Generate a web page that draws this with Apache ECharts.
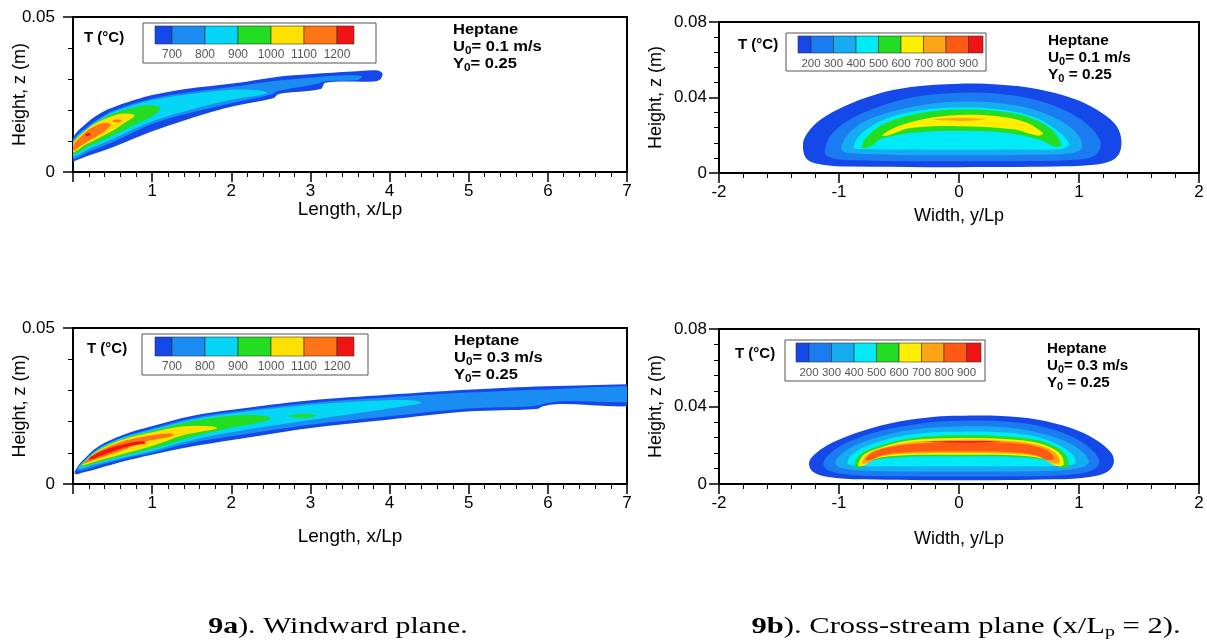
<!DOCTYPE html>
<html>
<head>
<meta charset="utf-8">
<script src="https://cdn.jsdelivr.net/npm/echarts@6/dist/echarts.min.js"></script>
<style>
  html, body { margin: 0; padding: 0; background: #fff; }
  #chart { width: 1207px; height: 643px; }
</style>
</head>
<body>
<div id="chart"></div>
<script>
// ---------- Temperature levels and colour scales ----------
const windLevels = [700, 800, 900, 1000, 1100, 1200];
const windColors = ['#1448e8', '#1b8cf2', '#06d6f6', '#22dd22', '#ffe000', '#ff7414', '#f01414'];
const crossLevels = [200, 300, 400, 500, 600, 700, 800, 900];
const crossColors = ['#1448e8', '#1a7cf0', '#16acf2', '#00eaf8', '#22dd22', '#ffee00', '#ffa414', '#ff5a14', '#f01414'];

// ---------- Axis tick values ----------
const lengthTicks = [0, 1, 2, 3, 4, 5, 6, 7];
const widthTicks = [-2, -1, 0, 1, 2];
const windHeightTicks = [0, 0.05];
const crossHeightTicks = [0, 0.04, 0.08];

// ---------- Windward plane, U0 = 0.1 m/s : outlines [x/Lp, z] of each temperature band ----------
const windA_T0 = [[0,0.0108],[0.17,0.0157],[0.34,0.0189],[0.55,0.0213],[0.85,0.0238],[1.0,0.0248],[1.4,0.0267],[2.04,0.0286],[2.55,0.0306],[3.02,0.0316],[3.53,0.0324],[3.83,0.0328],[3.91,0.0318],[3.88,0.0298],[3.80,0.0292],[3.19,0.0288],[3.13,0.0268],[2.6,0.0252],[2.53,0.0238],[2.04,0.0213],[1.62,0.0184],[1.19,0.0148],[0.85,0.0116],[0.51,0.0081],[0.21,0.0054],[0.03,0.0036],[0,0.0032]];
const windA_T700 = [[0,0.0102],[0.2,0.0149],[0.35,0.0176],[0.5,0.0197],[1.0,0.0237],[1.5,0.0258],[2.0,0.0274],[2.5,0.0292],[3.0,0.0304],[3.4,0.0311],[3.65,0.0309],[3.6,0.0297],[3.2,0.0293],[3.05,0.0282],[2.6,0.0262],[2.5,0.0250],[2.0,0.0222],[1.5,0.0192],[1.0,0.0155],[0.5,0.0096],[0.2,0.0065],[0,0.0043]];
const windA_T800 = [[0,0.0098],[0.2,0.0146],[0.35,0.0172],[0.5,0.0193],[1.0,0.0232],[1.5,0.0252],[2.0,0.0265],[2.35,0.0264],[2.45,0.0255],[2.3,0.0245],[2.0,0.0233],[1.5,0.0202],[1.0,0.0163],[0.5,0.0106],[0.2,0.0074],[0,0.0051]];
const windA_T900 = [[0,0.0095],[0.2,0.0143],[0.35,0.0168],[0.5,0.0188],[0.8,0.0210],[1.0,0.0215],[1.1,0.0206],[1.0,0.0180],[0.8,0.0155],[0.5,0.0117],[0.2,0.0082],[0,0.0058]];
const windA_T1000 = [[0,0.0092],[0.15,0.0132],[0.3,0.0159],[0.5,0.0181],[0.65,0.0189],[0.78,0.0182],[0.65,0.0158],[0.5,0.0133],[0.3,0.0106],[0.15,0.0087],[0,0.0064]];
const windA_T1100 = [[0.01,0.0089],[0.1,0.0114],[0.2,0.0137],[0.3,0.0151],[0.4,0.0158],[0.48,0.0153],[0.4,0.0132],[0.3,0.0115],[0.2,0.0100],[0.1,0.0085],[0.01,0.0069]];
const windA_T1100b = [[0.5,0.0164],[0.56,0.0169],[0.62,0.0165],[0.56,0.0160]];
const windA_T1200 = [[0.15,0.0120],[0.19,0.0125],[0.23,0.0121],[0.18,0.0116]];

// ---------- Windward plane, U0 = 0.3 m/s ----------
const windB_T0 = [[0.02,0.0036],[0.05,0.0052],[0.11,0.0072],[0.32,0.0120],[0.63,0.0157],[0.98,0.0184],[1.5,0.0218],[2.01,0.0238],[2.98,0.0268],[3.98,0.0286],[4.98,0.0302],[5.98,0.0313],[7.0,0.0320],[7.3,0.0322],[7.3,0.0257],[6.1,0.0256],[5.95,0.0250],[5.85,0.0240],[4.98,0.0232],[3.98,0.0206],[2.98,0.0179],[2.01,0.0141],[1.5,0.0120],[0.98,0.0093],[0.63,0.0072],[0.32,0.0050],[0.11,0.0036],[0.04,0.0031]];
const windB_T700 = [[0.05,0.0045],[0.11,0.0068],[0.32,0.0114],[0.63,0.0151],[1.0,0.0178],[1.5,0.0211],[2.0,0.0231],[3.0,0.0260],[4.0,0.0278],[5.0,0.0293],[6.0,0.0303],[7.3,0.0309],[7.3,0.0268],[6.2,0.0266],[6.0,0.0260],[5.8,0.0249],[5.0,0.0242],[4.0,0.0217],[3.0,0.0190],[2.0,0.0153],[1.5,0.0132],[1.0,0.0100],[0.63,0.0080],[0.32,0.0059],[0.11,0.0043]];
const windB_T800 = [[0.07,0.0052],[0.3,0.0109],[0.6,0.0146],[1.0,0.0174],[1.5,0.0206],[2.0,0.0226],[3.0,0.0254],[3.8,0.0267],[4.3,0.0268],[4.4,0.0260],[4.2,0.0250],[4.0,0.0242],[3.0,0.0205],[2.0,0.0166],[1.5,0.0140],[1.0,0.0106],[0.6,0.0082],[0.3,0.0064],[0.1,0.0050]];
const windB_T900 = [[0.09,0.0057],[0.3,0.0106],[0.6,0.0143],[1.0,0.0170],[1.5,0.0201],[2.0,0.0219],[2.35,0.0220],[2.5,0.0211],[2.35,0.0197],[2.0,0.0180],[1.5,0.0150],[1.0,0.0113],[0.6,0.0088],[0.3,0.0068],[0.11,0.0055]];
const windB_T900b = [[2.72,0.0218],[2.9,0.0224],[3.08,0.0219],[2.9,0.0212]];
const windB_T1000 = [[0.11,0.0061],[0.3,0.0104],[0.6,0.0140],[1.0,0.0166],[1.4,0.0185],[1.75,0.0185],[1.82,0.0178],[1.6,0.0167],[1.4,0.0157],[1.0,0.0122],[0.6,0.0094],[0.3,0.0073],[0.13,0.0060]];
const windB_T1100 = [[0.13,0.0066],[0.3,0.0101],[0.6,0.0134],[0.9,0.0152],[1.22,0.0163],[1.28,0.0156],[1.1,0.0145],[0.9,0.0135],[0.6,0.0106],[0.3,0.0080],[0.15,0.0066]];
const windB_T1200 = [[0.2,0.0082],[0.35,0.0104],[0.55,0.0122],[0.7,0.0131],[0.88,0.0137],[0.92,0.0131],[0.75,0.0123],[0.6,0.0113],[0.45,0.0099],[0.3,0.0085],[0.22,0.0078]];

// ---------- Cross-stream plane, U0 = 0.1 m/s : outlines [y/Lp, z] ----------
const crossA_T100 = [[-1.30,0.0155],[-1.26,0.0215],[-1.15,0.0285],[-0.95,0.0355],[-0.7,0.0415],[-0.4,0.0455],[0,0.0473],[0.35,0.0468],[0.65,0.0445],[0.95,0.0395],[1.15,0.0335],[1.3,0.026],[1.35,0.019],[1.34,0.011],[1.27,0.0065],[1.1,0.0042],[0.8,0.0034],[0,0.0031],[-0.9,0.0034],[-1.15,0.0045],[-1.27,0.0075]];
const crossA_T200 = [[-1.12,0.0115],[-1.07,0.020],[-0.92,0.028],[-0.65,0.0355],[-0.35,0.0405],[0,0.0425],[0.35,0.0418],[0.65,0.0385],[0.92,0.032],[1.1,0.024],[1.18,0.016],[1.14,0.0095],[1.0,0.0072],[0.6,0.0064],[0,0.0062],[-0.6,0.0064],[-1.0,0.0072],[-1.1,0.0090]];
const crossA_T300 = [[-0.98,0.0125],[-0.93,0.020],[-0.78,0.0275],[-0.5,0.0335],[-0.2,0.0370],[0,0.0378],[0.3,0.0372],[0.6,0.034],[0.85,0.0275],[1.0,0.0195],[1.02,0.0130],[0.92,0.0103],[0.5,0.0096],[0,0.0094],[-0.5,0.0096],[-0.9,0.0104]];
const crossA_T400 = [[-0.88,0.0135],[-0.82,0.0205],[-0.62,0.0285],[-0.32,0.0333],[0,0.0347],[0.3,0.034],[0.6,0.0302],[0.8,0.0235],[0.92,0.0155],[0.86,0.0127],[0.5,0.0124],[0,0.0123],[-0.5,0.0124],[-0.82,0.0127]];
const crossA_T500 = [[-0.81,0.0135],[-0.77,0.019],[-0.62,0.0262],[-0.32,0.0318],[0,0.0336],[0.3,0.0330],[0.6,0.0292],[0.78,0.0225],[0.85,0.0150],[0.8,0.0140],[0.68,0.0175],[0.4,0.0212],[0,0.0222],[-0.4,0.0212],[-0.65,0.0180],[-0.74,0.0140]];
const crossA_T600 = [[-0.64,0.0200],[-0.52,0.0245],[-0.3,0.0285],[0,0.0307],[0.3,0.0302],[0.55,0.0270],[0.7,0.0210],[0.66,0.0198],[0.45,0.0232],[0,0.0248],[-0.4,0.0238],[-0.6,0.0198]];
const crossA_T700 = [[-0.22,0.0283],[0,0.0291],[0.22,0.0285],[0,0.0276]];

// ---------- Cross-stream plane, U0 = 0.3 m/s ----------
const crossB_T100 = [[-1.25,0.0110],[-1.2,0.0155],[-1.05,0.0215],[-0.8,0.0275],[-0.5,0.0322],[-0.2,0.0347],[0,0.0352],[0.35,0.0351],[0.65,0.0333],[0.95,0.0285],[1.15,0.0225],[1.27,0.0160],[1.29,0.0110],[1.24,0.0065],[1.1,0.0038],[0.8,0.0024],[0,0.0019],[-0.8,0.0024],[-1.1,0.0038],[-1.22,0.0065]];
const crossB_T200 = [[-1.13,0.0105],[-1.08,0.0155],[-0.92,0.0218],[-0.65,0.0275],[-0.3,0.0314],[0,0.0326],[0.35,0.0324],[0.65,0.0302],[0.92,0.0250],[1.1,0.0180],[1.17,0.0112],[1.1,0.0068],[0.9,0.0047],[0.5,0.0040],[0,0.0039],[-0.5,0.0040],[-0.9,0.0047],[-1.08,0.0068]];
const crossB_T300 = [[-1.03,0.0105],[-0.98,0.0155],[-0.82,0.0212],[-0.55,0.0262],[-0.25,0.0290],[0,0.0297],[0.3,0.0295],[0.6,0.0274],[0.88,0.0222],[1.04,0.0160],[1.08,0.0110],[0.98,0.0080],[0.7,0.0067],[0,0.0065],[-0.7,0.0067],[-0.96,0.0080]];
const crossB_T400 = [[-0.93,0.0110],[-0.88,0.0158],[-0.72,0.0208],[-0.45,0.0250],[-0.2,0.0267],[0,0.0270],[0.3,0.0268],[0.6,0.0250],[0.82,0.0205],[0.95,0.0150],[0.97,0.0110],[0.88,0.0094],[0.5,0.0091],[0,0.0091],[-0.5,0.0091],[-0.86,0.0094]];
const crossB_T500 = [[-0.87,0.0090],[-0.83,0.0150],[-0.66,0.0198],[-0.4,0.0236],[-0.15,0.0249],[0,0.0251],[0.3,0.0249],[0.6,0.0232],[0.78,0.0200],[0.89,0.0150],[0.91,0.0092],[0.84,0.0088],[0.74,0.0122],[0.45,0.0140],[0,0.0142],[-0.45,0.0140],[-0.72,0.0122],[-0.82,0.0086]];
const crossB_T600 = [[-0.84,0.0095],[-0.79,0.0152],[-0.62,0.0195],[-0.4,0.0226],[0,0.0237],[0.3,0.0235],[0.6,0.0220],[0.76,0.0190],[0.85,0.0150],[0.87,0.0098],[0.80,0.0095],[0.70,0.0130],[0.45,0.0148],[0,0.0151],[-0.45,0.0148],[-0.70,0.0130],[-0.79,0.0095]];
const crossB_T700 = [[-0.81,0.0108],[-0.75,0.0158],[-0.6,0.0192],[-0.38,0.0216],[0,0.0227],[0.3,0.0226],[0.58,0.0212],[0.74,0.0185],[0.82,0.0150],[0.835,0.0110],[0.77,0.0108],[0.68,0.0138],[0.45,0.0156],[0,0.0160],[-0.45,0.0156],[-0.68,0.0138],[-0.76,0.0108]];
const crossB_T800 = [[-0.78,0.0125],[-0.72,0.0162],[-0.58,0.0190],[-0.35,0.0208],[0,0.0217],[0.3,0.0216],[0.56,0.0204],[0.72,0.0178],[0.78,0.0150],[0.79,0.0128],[0.73,0.0125],[0.64,0.0148],[0.42,0.0165],[0,0.0169],[-0.42,0.0165],[-0.64,0.0148],[-0.73,0.0125]];
const crossB_T900 = [[-0.30,0.0218],[0,0.0222],[0.35,0.0220],[0,0.0214]];

// ---------- Panels: band outlines paired with their colour index ----------
const panels = [
  { bands: [[windA_T0,0],[windA_T700,1],[windA_T800,2],[windA_T900,3],[windA_T1000,4],[windA_T1100,5],[windA_T1100b,5],[windA_T1200,6]], colors: windColors },
  { bands: [[crossA_T100,0],[crossA_T200,1],[crossA_T300,2],[crossA_T400,3],[crossA_T500,4],[crossA_T600,5],[crossA_T700,6]], colors: crossColors },
  { bands: [[windB_T0,0],[windB_T700,1],[windB_T800,2],[windB_T900,3],[windB_T900b,3],[windB_T1000,4],[windB_T1100,5],[windB_T1200,6]], colors: windColors },
  { bands: [[crossB_T100,0],[crossB_T200,1],[crossB_T300,2],[crossB_T400,3],[crossB_T500,4],[crossB_T600,5],[crossB_T700,6],[crossB_T800,7],[crossB_T900,8]], colors: crossColors }
];

// ---------- Layout ----------
const SANS = 'Liberation Sans, Arial, sans-serif';
const SERIF = 'Liberation Serif, Times New Roman, serif';
const grids = [
  { left: 73,  top: 17,  width: 554, height: 155 },
  { left: 719, top: 22,  width: 480, height: 151 },
  { left: 73,  top: 328, width: 554, height: 156 },
  { left: 719, top: 329, width: 480, height: 155 }
];

function xAxisFor(i) {
  const wind = i % 2 === 0;
  const ticks = wind ? lengthTicks : widthTicks;
  return {
    gridIndex: i, type: 'value',
    min: ticks[0], max: ticks[ticks.length - 1], interval: 1,
    name: wind ? 'Length, x/Lp' : 'Width, y/Lp',
    nameLocation: 'middle', nameMoveOverlap: false,
    nameGap: [28, 34, 43, 46][i],
    nameTextStyle: { color: '#000', fontSize: wind ? 19 : 18, fontFamily: SANS },
    axisLine: { onZero: false, lineStyle: { color: '#000', width: 2 } },
    axisTick: { inside: false, length: 10, lineStyle: { color: '#000', width: 1.5 } },
    minorTick: { show: true, splitNumber: 5, length: 5, lineStyle: { color: '#000', width: 1 } },
    splitLine: { show: false }, minorSplitLine: { show: false },
    axisLabel: {
      color: '#000', fontSize: 17, fontFamily: SANS, margin: 11,
      formatter: v => (wind && v === 0) ? '' : String(v)
    }
  };
}
function yAxisFor(i) {
  const wind = i % 2 === 0;
  const ticks = wind ? windHeightTicks : crossHeightTicks;
  return {
    gridIndex: i, type: 'value',
    min: ticks[0], max: ticks[ticks.length - 1], interval: ticks[1] - ticks[0],
    name: 'Height, z (m)',
    nameLocation: 'middle', nameRotate: 90, nameMoveOverlap: false,
    nameGap: wind ? 44 : 54,
    nameTextStyle: { color: '#000', fontSize: 18, fontFamily: SANS },
    axisLine: { onZero: false, lineStyle: { color: '#000', width: 2 } },
    axisTick: { inside: false, length: 10, lineStyle: { color: '#000', width: 1.5 } },
    minorTick: { show: true, splitNumber: 5, length: 5, lineStyle: { color: '#000', width: 1 } },
    splitLine: { show: false }, minorSplitLine: { show: false },
    axisLabel: { color: '#000', fontSize: 17, fontFamily: SANS, margin: wind ? 18 : 12,
      formatter: v => String(+v.toFixed(3)) }
  };
}

function bandSeries(i) {
  const p = panels[i];
  return {
    type: 'custom', coordinateSystem: 'cartesian2d',
    xAxisIndex: i, yAxisIndex: i, clip: true, silent: true,
    data: p.bands.map(b => b[0][0]),
    renderItem: (params, api) => {
      const band = p.bands[params.dataIndex];
      return {
        type: 'polygon',
        shape: { points: band[0].map(pt => api.coord(pt)), smooth: 0.35 },
        style: { fill: p.colors[band[1]], stroke: null }
      };
    }
  };
}

// ---------- Text helpers (legend boxes, annotations, captions) ----------
const mctx = document.createElement('canvas').getContext('2d');
function textRun(x, y, parts, sx) {
  sx = sx || 1;
  let cx = x;
  const out = [];
  for (const p of parts) {
    const font = (p.weight || 'normal') + ' ' + p.size + 'px ' + (p.family || SANS);
    mctx.font = font;
    out.push({
      type: 'text', x: cx, y: y + (p.dy || 0), scaleX: sx, silent: true,
      style: { text: p.t, font: font, fill: p.color || '#000',
        textAlign: 'left', align: 'left', textVerticalAlign: 'middle', verticalAlign: 'middle' }
    });
    cx += mctx.measureText(p.t).width * sx;
  }
  return out;
}
function centeredRun(cx, y, parts, sx) {
  sx = sx || 1;
  let w = 0;
  for (const p of parts) {
    mctx.font = (p.weight || 'normal') + ' ' + p.size + 'px ' + (p.family || SANS);
    w += mctx.measureText(p.t).width * sx;
  }
  return textRun(cx - w / 2, y, parts, sx);
}

function colorBar(box, bar, widths, colors, levels, labelY, labelSize, tPos) {
  const els = [];
  els.push({ type: 'rect', silent: true,
    shape: { x: box[0], y: box[1], width: box[2], height: box[3] },
    style: { fill: '#fff', stroke: '#555', lineWidth: 1 } });
  let x = bar[0];
  const edges = [];
  widths.forEach((w, k) => {
    els.push({ type: 'rect', silent: true,
      shape: { x: x, y: bar[1], width: w, height: bar[2] },
      style: { fill: colors[k], stroke: '#333', lineWidth: 0.6 } });
    x += w;
    edges.push(x);
  });
  levels.forEach((lv, k) => {
    els.push({ type: 'text', silent: true, x: edges[k], y: labelY,
      style: { text: String(lv), font: labelSize + 'px ' + SANS, fill: '#555',
        textAlign: 'center', align: 'center', textVerticalAlign: 'middle', verticalAlign: 'middle' } });
  });
  els.push(...textRun(tPos[0], tPos[1], [{ t: 'T (°C)', size: 15, weight: 'bold' }]));
  return els;
}

function caseNote(x, y, u0, spaced, sx) {
  const b = { size: 14, weight: 'bold' };
  const s = { size: 10, weight: 'bold', dy: 4 };
  return [
    ...textRun(x, y, [{ t: 'Heptane', ...b }], sx),
    ...textRun(x, y + 17, [{ t: 'U', ...b }, { t: '0', ...s }, { t: '= ' + u0 + ' m/s', ...b }], sx),
    ...textRun(x, y + 34, [{ t: 'Y', ...b }, { t: '0', ...s }, { t: (spaced ? ' = ' : '= ') + '0.25', ...b }], sx)
  ];
}

const windWidths = [17, 33, 33, 33, 33, 33, 17];
const crossWidths = [13, 22.5, 22.5, 22.5, 22.5, 22.5, 22.5, 22.5, 14.5];

const graphics = [
  ...colorBar([143, 23, 233, 40], [155, 26, 18], windWidths, windColors, windLevels, 55, 12, [84, 38]),
  ...colorBar([786, 33, 200, 38], [798, 36, 17], crossWidths, crossColors, crossLevels, 64, 11.5, [738, 45]),
  ...colorBar([142, 334, 226, 41], [155, 337, 19], windWidths, windColors, windLevels, 367, 12, [87, 349]),
  ...colorBar([785, 340, 200, 41], [796, 343, 19], crossWidths, crossColors, crossLevels, 373, 11.5, [735, 354]),
  ...caseNote(453, 30, '0.1', false, 1.18),
  ...caseNote(1048, 41, '0.1', true, 1.1),
  ...caseNote(454, 341, '0.3', false, 1.18),
  ...caseNote(1047, 349, '0.3', true, 1.08),
  ...centeredRun(338, 627, [
    { t: '9a', size: 23, weight: 'bold', family: SERIF },
    { t: '). Windward plane.', size: 23, family: SERIF }
  ], 1.3),
  ...centeredRun(966, 627, [
    { t: '9b', size: 23, weight: 'bold', family: SERIF },
    { t: '). Cross-stream plane (x/L', size: 23, family: SERIF },
    { t: 'p', size: 15, family: SERIF, dy: 5 },
    { t: ' = 2).', size: 23, family: SERIF }
  ], 1.33)
];

const chart = echarts.init(document.getElementById('chart'), null, { renderer: 'canvas' });
chart.setOption({
  animation: false,
  backgroundColor: '#fff',
  grid: grids.map(g => ({ ...g, show: true, borderColor: '#000', borderWidth: 2, backgroundColor: 'transparent', containLabel: false })),
  xAxis: [0, 1, 2, 3].map(xAxisFor),
  yAxis: [0, 1, 2, 3].map(yAxisFor),
  series: [0, 1, 2, 3].map(bandSeries),
  graphic: { elements: graphics }
});
</script>
</body>
</html>
